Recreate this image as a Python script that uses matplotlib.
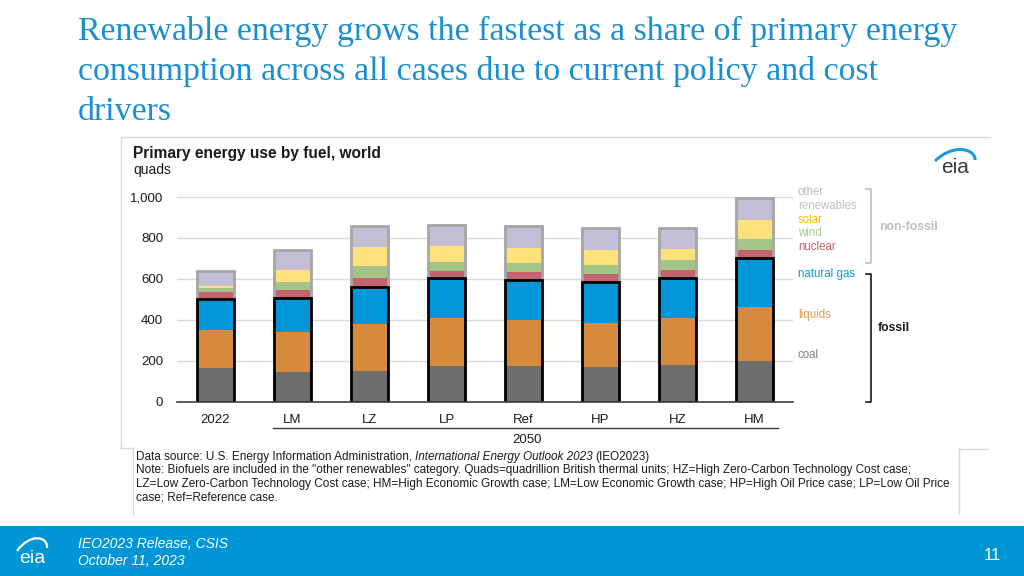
import numpy as np
import matplotlib
matplotlib.use("Agg")
import matplotlib.pyplot as plt
from matplotlib.patches import Rectangle, PathPatch
from matplotlib.path import Path

plt.rcParams['font.family'] = ['Liberation Sans', 'DejaVu Sans']

# data (quads)
cases = ['2022', 'LM', 'LZ', 'LP', 'Ref', 'HP', 'HZ', 'HM']
coal = [166, 146, 150, 172, 172, 171, 179, 198]
liquids = [185, 195, 227, 236, 226, 211, 228, 265]
natural_gas = [150, 166, 182, 194, 194, 203, 195, 236]
nuclear = [34, 38, 46, 37, 41, 36, 39, 39]
wind = [18, 40, 58, 44, 43, 46, 48, 55]
solar = [11, 59, 91, 75, 72, 74, 56, 92]
other_renew = [73, 94, 105, 104, 107, 105, 104, 110]

fuels = ['coal', 'liquids', 'natural gas', 'nuclear', 'wind', 'solar', 'other renewables']
fill_colors = ['#6d6d6d', '#d58a3c', '#0096d8', '#c4636f', '#a3c585', '#fde27c', '#c3bdd6']
series = [coal, liquids, natural_gas, nuclear, wind, solar, other_renew]

W, H = 1024, 576
fig = plt.figure(figsize=(W / 100, H / 100), dpi=100)
fig.patch.set_facecolor('white')

# overlay in pixel coords for the slide decoration
ov = fig.add_axes([0, 0, 1, 1])
ov.set_xlim(0, W)
ov.set_ylim(H, 0)
ov.axis('off')

title_col = '#1a8fcf'
for i, line in enumerate(['Renewable energy grows the fastest as a share of primary energy',
                          'consumption across all cases due to current policy and cost',
                          'drivers']):
    ov.text(78, 40 + i * 40, line, family='Liberation Serif', fontsize=24.4,
            color=title_col, va='baseline', ha='left')

# chart panel borders
bc = '#d9d9d9'
ov.plot([121, 990], [137, 137], color=bc, lw=1)
ov.plot([121, 121], [137, 448], color=bc, lw=1)
ov.plot([121, 133], [448, 448], color=bc, lw=1)
ov.plot([133, 133], [448, 514], color=bc, lw=1)
ov.plot([959, 988], [449, 449], color=bc, lw=1)
ov.plot([959, 959], [449, 514], color=bc, lw=1)

ov.text(133, 158, 'Primary energy use by fuel, world', fontsize=11.2, fontweight='bold',
        color='#1a1a1a', va='baseline')
ov.text(133, 174, 'quads', fontsize=10, color='#1a1a1a', va='baseline')

# eia logo (top right)
ov.text(955, 173, 'eia', fontsize=15, color='#3a3a3a', ha='center', va='baseline')
ov.add_patch(PathPatch(Path([(935, 161), (955, 142), (976, 150), (975, 160)],
                            [Path.MOVETO, Path.CURVE4, Path.CURVE4, Path.CURVE4]),
                       fill=False, edgecolor='#1e9bd7', lw=2.2))

# fuel labels on the right
labels = [('other', 192, '#bfbfbf'), ('renewables', 206, '#bfbfbf'),
          ('solar', 220, '#ffc000'), ('wind', 233, '#a9c98b'),
          ('nuclear', 246.5, '#c0606e'), ('natural gas', 274, '#00a0dc'),
          ('liquids', 315, '#e29b4e'), ('coal', 355, '#7f7f7f')]
for txt, y, c in labels:
    ov.text(798, y, txt, fontsize=8.3, color=c, va='center', ha='left')

# brackets
ov.plot([866, 871, 871, 866], [189, 189, 263, 263], color='#bfbfbf', lw=1.2)
ov.text(879, 227.5, 'non-fossil', fontsize=8.8, fontweight='bold', color='#bfbfbf', va='center')
ov.plot([866, 871, 871, 866], [273.5, 273.5, 401.5, 401.5], color='#1a1a1a', lw=1.2)
ov.text(878, 328, 'fossil', fontsize=8.8, fontweight='bold', color='#1a1a1a', va='center')

# 2050 group line
ov.plot([273, 778], [428, 428], color='#404040', lw=1)
ov.text(527, 440, '2050', fontsize=9.5, color='#1a1a1a', ha='center', va='center')

# notes
fs_note = 8.5
notes = ['Data source: U.S. Energy Information Administration, ',
         'Note: Biofuels are included in the "other renewables" category. Quads=quadrillion British thermal units; HZ=High Zero-Carbon Technology Cost case;',
         'LZ=Low Zero-Carbon Technology Cost case; HM=High Economic Growth case; LM=Low Economic Growth case; HP=High Oil Price case; LP=Low Oil Price',
         'case; Ref=Reference case.']
t0 = ov.text(136, 457, notes[0], fontsize=fs_note, color='#1a1a1a', va='center')
fig.canvas.draw()
bb = t0.get_window_extent()
x1 = ov.transData.inverted().transform((bb.x1, bb.y0))[0]
t1 = ov.text(x1, 457, 'International Energy Outlook 2023', fontsize=fs_note, style='italic',
             color='#1a1a1a', va='center')
bb = t1.get_window_extent()
x2 = ov.transData.inverted().transform((bb.x1, bb.y0))[0]
ov.text(x2 + 2, 457, '(IEO2023)', fontsize=fs_note, color='#1a1a1a', va='center')
for i, line in enumerate(notes[1:]):
    ov.text(136, 470.5 + i * 13.7, line, fontsize=fs_note, color='#1a1a1a', va='center')

# footer band
ov.add_patch(Rectangle((0, 526), W, 50, color='#0096d6', lw=0))
ov.text(32, 563, 'eia', fontsize=14, color='white', ha='center', va='baseline')
ov.add_patch(PathPatch(Path([(17, 551), (30, 533), (48, 536), (47, 548)],
                            [Path.MOVETO, Path.CURVE4, Path.CURVE4, Path.CURVE4]),
                       fill=False, edgecolor='white', lw=1.6))
ov.text(78, 544, 'IEO2023 Release, CSIS', fontsize=10, style='italic', color='white', va='center')
ov.text(78, 561, 'October 11, 2023', fontsize=10, style='italic', color='white', va='center')
ov.text(992, 555, '11', fontsize=12, color='white', ha='center', va='center')

# the chart itself
ax = fig.add_axes([177 / W, 1 - 401.7 / H, (793 - 177) / W, 205 / H])
ax.set_zorder(2)
ax.patch.set_alpha(0)
x = np.arange(len(cases))
bw = 0.49
bottom = np.zeros(len(cases))
for vals, col in zip(series, fill_colors):
    ax.bar(x, vals, bw, bottom=bottom, color=col, edgecolor='none', zorder=2)
    bottom += np.array(vals)

fossil_tot = np.array(coal) + np.array(liquids) + np.array(natural_gas)
nonfossil_tot = np.array(nuclear) + np.array(wind) + np.array(solar) + np.array(other_renew)
ax.bar(x, nonfossil_tot, bw, bottom=fossil_tot, fill=False, edgecolor='#a6a6a6', lw=2, zorder=3)
ax.bar(x, fossil_tot, bw, fill=False, edgecolor='black', lw=2, zorder=4)

ax.set_xlim(-0.5, 7.5)
ax.set_ylim(0, 1000)
ax.set_yticks([0, 200, 400, 600, 800, 1000])
ax.set_yticklabels(['0', '200', '400', '600', '800', '1,000'])
ax.set_xticks(x)
ax.set_xticklabels(cases)
ax.tick_params(axis='y', length=0, pad=10, labelsize=9.5, labelcolor='#1a1a1a')
ax.tick_params(axis='x', length=0, pad=9, labelsize=9.5, labelcolor='#1a1a1a')
ax.grid(axis='y', color='#d9d9d9', lw=1, zorder=0)
ax.set_axisbelow(True)
for s in ['top', 'right', 'left']:
    ax.spines[s].set_visible(False)
ax.spines['bottom'].set_color('#404040')
ax.spines['bottom'].set_linewidth(1.2)
ax.spines['bottom'].set_zorder(5)

fig.savefig('out.png', dpi=100)
